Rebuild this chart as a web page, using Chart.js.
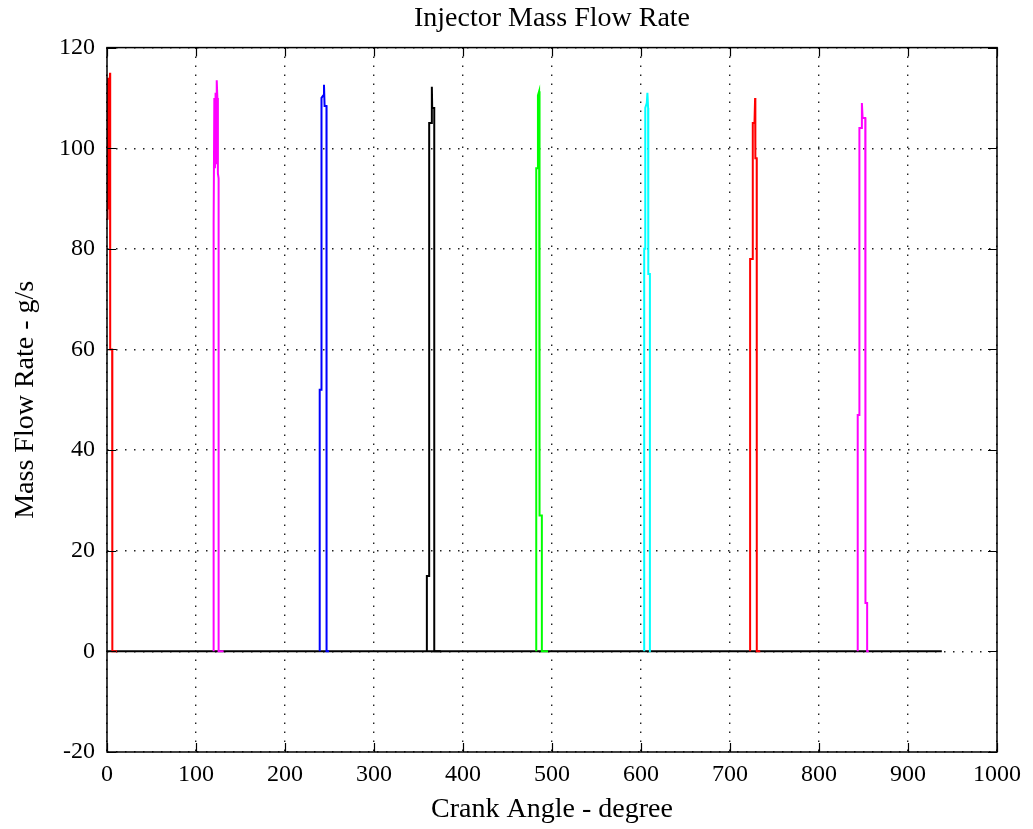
<!DOCTYPE html>
<html>
<head>
<meta charset="utf-8">
<script src="https://cdn.jsdelivr.net/npm/chart.js@4.4.1/dist/chart.umd.min.js"></script>
<style>
html,body{margin:0;padding:0;background:#fff;}
#wrap{width:1033px;height:829px;position:relative;}
</style>
</head>
<body>
<div id="wrap"><canvas id="c"></canvas></div>
<script>
// ---- Text ----
const chartTitle = 'Injector Mass Flow Rate';
const xTitle = 'Crank Angle - degree';
const yTitle = 'Mass Flow Rate - g/s';

// ---- Axes ----
const xMin = 0, xMax = 1000, xStep = 100;
const yMin = -20, yMax = 120, yStep = 20;

// ---- Series: [crank angle (deg), mass flow rate (g/s)] ----
const baselineZero = [[0,0],[938,0]];
const cyl1Red = [[0,86],[0.6,114],[1.2,88],[1.8,114],[2.4,92],[3.0,113],[3.4,115],[3.6,60],[5.8,60],[6.0,0],[11,0]];
const cyl2Magenta = [[119.8,0],[119.8,85],[120.6,110],[121.3,96],[122,111],[122.7,97],[123.3,113.5],[124,110],[124.6,95],[125.4,94],[125.4,0],[131,0]];
const cyl3Blue = [[239,0],[239,52],[241,52],[241,110],[243,110.5],[243.8,112.6],[244.5,108.4],[246.6,108.4],[246.7,0],[249.5,0]];
const cyl4Black = [[359.4,0],[359.4,15],[362,15],[362,105],[364.6,105],[365,112.2],[365.4,108],[367.7,108],[367.7,0],[375,0]];
const cyl5Green = [[482.3,0],[482.3,96],[484,96],[484.2,110.5],[485.5,111.3],[486,110],[486,27],[488.6,27],[488.6,0],[495.5,0]];
const cyl6Cyan = [[603.6,0],[603.6,80],[604.5,80],[604.8,108],[606.5,109],[607.2,111],[608,108],[608.2,75],[610,75],[610,0],[611,0]];
const cyl7Red = [[722.6,0],[722.6,78],[725.5,78],[725.6,105],[727.5,105],[728.2,110],[728.5,98],[730,98],[730.1,0],[734,0]];
const cyl8Magenta = [[843.5,0],[843.5,47],[845.4,47],[845.4,104],[847.5,104],[848.2,109],[849,106],[852,106],[852.2,9.6],[854.1,9.6],[854.1,0],[856,0]];

const seriesData = [cyl1Red, cyl2Magenta, cyl3Blue, cyl4Black, cyl5Green, cyl6Cyan, cyl7Red, cyl8Magenta];
const seriesColors = ['#ff0000','#ff00ff','#0000ff','#000000','#00ff00','#00ffff','#ff0000','#ff00ff'];

const toXY = arr => arr.map(p => ({x: p[0], y: p[1]}));

const datasets = seriesData.map((d, i) => ({
  data: toXY(d),
  borderColor: seriesColors[i],
  backgroundColor: seriesColors[i],
  borderWidth: 2,
  pointRadius: 0,
  showLine: true,
  tension: 0,
  fill: false
}));
// baseline last in list => drawn underneath the spikes
datasets.push({
  data: toXY(baselineZero),
  borderColor: '#000000',
  borderWidth: 2,
  pointRadius: 0,
  showLine: true,
  fill: false
});

const FONT = "'Liberation Serif','Times New Roman',serif";
Chart.defaults.font.family = FONT;
Chart.defaults.color = '#000';

const boxPlugin = {
  id: 'matlabBox',
  afterDatasetsDraw(chart) {
    const {ctx, chartArea: a, scales: {x, y}} = chart;
    ctx.save();
    ctx.setLineDash([]);
    ctx.strokeStyle = '#000';
    ctx.lineWidth = 1.5;
    ctx.strokeRect(a.left, a.top, a.right - a.left, a.bottom - a.top);
    const L = 9;
    ctx.beginPath();
    x.ticks.forEach(t => {
      const px = Math.round(x.getPixelForValue(t.value)) + 0.5;
      ctx.moveTo(px, a.bottom); ctx.lineTo(px, a.bottom - L);
      ctx.moveTo(px, a.top); ctx.lineTo(px, a.top + L);
    });
    y.ticks.forEach(t => {
      const py = Math.round(y.getPixelForValue(t.value)) + 0.5;
      ctx.moveTo(a.left, py); ctx.lineTo(a.left + L, py);
      ctx.moveTo(a.right, py); ctx.lineTo(a.right - L, py);
    });
    ctx.lineWidth = 1.2;
    ctx.stroke();
    ctx.restore();
  }
};

new Chart(document.getElementById('c'), {
  type: 'scatter',
  data: { datasets },
  plugins: [boxPlugin],
  options: {
    responsive: true,
    maintainAspectRatio: false,
    animation: false,
    layout: { padding: { left: 0, right: 36, top: 0, bottom: 0 } },
    plugins: {
      legend: { display: false },
      tooltip: { enabled: false },
      title: {
        display: true,
        fullSize: false,
        text: chartTitle,
        color: '#000',
        font: { size: 28, weight: 'normal', family: FONT },
        padding: { top: 2, bottom: 12 }
      }
    },
    scales: {
      x: {
        type: 'linear',
        min: xMin, max: xMax,
        ticks: { stepSize: xStep, color: '#000', padding: 8, font: { size: 24 }, maxRotation: 0, autoSkip: false,
                 callback: v => String(v) },
        grid: { color: '#222', lineWidth: 1.4, drawTicks: false },
        border: { display: false, dash: [1.5, 7.5] },
        title: { display: true, text: xTitle, color: '#000', font: { size: 28 }, padding: { top: 0, bottom: 3 } },
        afterFit: s => { s.height = 77; }
      },
      y: {
        type: 'linear',
        min: yMin, max: yMax,
        ticks: { stepSize: yStep, color: '#000', padding: 12, font: { size: 24 }, callback: v => String(v) },
        grid: { color: '#222', lineWidth: 1.4, drawTicks: false },
        border: { display: false, dash: [1.5, 7.5] },
        title: { display: true, text: yTitle, color: '#000', font: { size: 28 }, padding: { top: 9, bottom: 0 } },
        afterFit: s => { s.width = 107; }
      }
    }
  }
});
</script>
</body>
</html>
